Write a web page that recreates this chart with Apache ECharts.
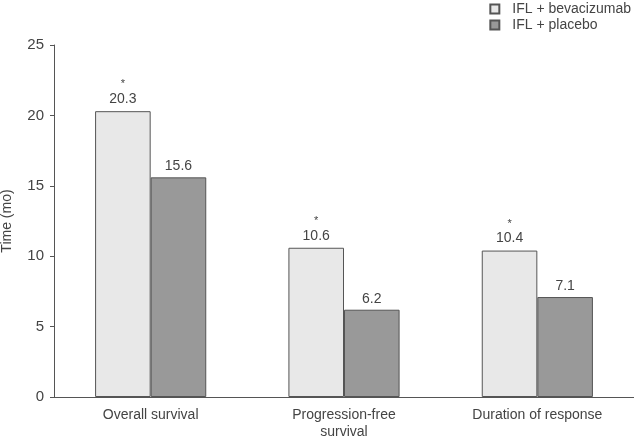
<!DOCTYPE html>
<html><head><meta charset="utf-8">
<script src="https://cdn.jsdelivr.net/npm/echarts@6/dist/echarts.min.js"></script>
<style>html,body{margin:0;padding:0;background:#fff}#c{width:634px;height:438px}</style>
</head><body><div id="c"></div>
<script>
const categories = ['Overall survival', 'Progression-free\nsurvival', 'Duration of response'];
const bevacizumab = [20.3, 10.6, 10.4];
const placebo = [15.6, 6.2, 7.1];
const significant = [true, true, true];
const yTicks = [0, 5, 10, 15, 20, 25];

const chart = echarts.init(document.getElementById('c'));
const txt = '#444';
const font = 'Liberation Sans, Arial, sans-serif';
chart.setOption({
  animation: false,
  textStyle: { fontFamily: font },
  grid: { left: 54, right: 0, top: 45, bottom: 41, containLabel: false, outerBoundsMode: 'none' },
  legend: {
    right: -2, top: -3, orient: 'vertical', itemWidth: 9, itemHeight: 9, itemGap: 2,
    icon: 'rect',
    textStyle: { color: txt, fontSize: 14, fontFamily: font, padding: [0, 0, 0, 8] },
    data: ['IFL + bevacizumab', 'IFL + placebo']
  },
  xAxis: {
    type: 'category', data: categories,
    axisLine: { lineStyle: { color: '#555' } },
    axisTick: { show: false },
    axisLabel: { color: txt, fontSize: 14, margin: 10, lineHeight: 17 }
  },
  yAxis: {
    type: 'value', min: yTicks[0], max: yTicks[yTicks.length - 1], interval: 5,
    name: 'Time (mo)', nameLocation: 'middle', nameGap: 40,
    nameTextStyle: { color: txt, fontSize: 14 },
    axisLine: { show: true, lineStyle: { color: '#555' } },
    axisTick: { show: true, length: 4, lineStyle: { color: '#555' } },
    axisLabel: { color: txt, fontSize: 15, margin: 10 },
    splitLine: { show: false }
  },
  series: [
    {
      name: 'IFL + bevacizumab', type: 'bar', data: bevacizumab,
      barGap: '0%', barCategoryGap: '42.5%',
      itemStyle: { color: '#e8e8e8', borderColor: '#555', borderWidth: 1 },
      label: {
        show: true, position: 'top', distance: 4,
        formatter: p => (significant[p.dataIndex] ? '{s|*}\n' : '') + '{v|' + p.value + '}',
        rich: {
          s: { color: txt, fontSize: 11, lineHeight: 14 },
          v: { color: txt, fontSize: 14, lineHeight: 16 }
        }
      }
    },
    {
      name: 'IFL + placebo', type: 'bar', data: placebo,
      itemStyle: { color: '#999999', borderColor: '#555', borderWidth: 1 },
      label: { show: true, position: 'top', distance: 4, color: txt, fontSize: 14 }
    }
  ]
});
</script></body></html>
